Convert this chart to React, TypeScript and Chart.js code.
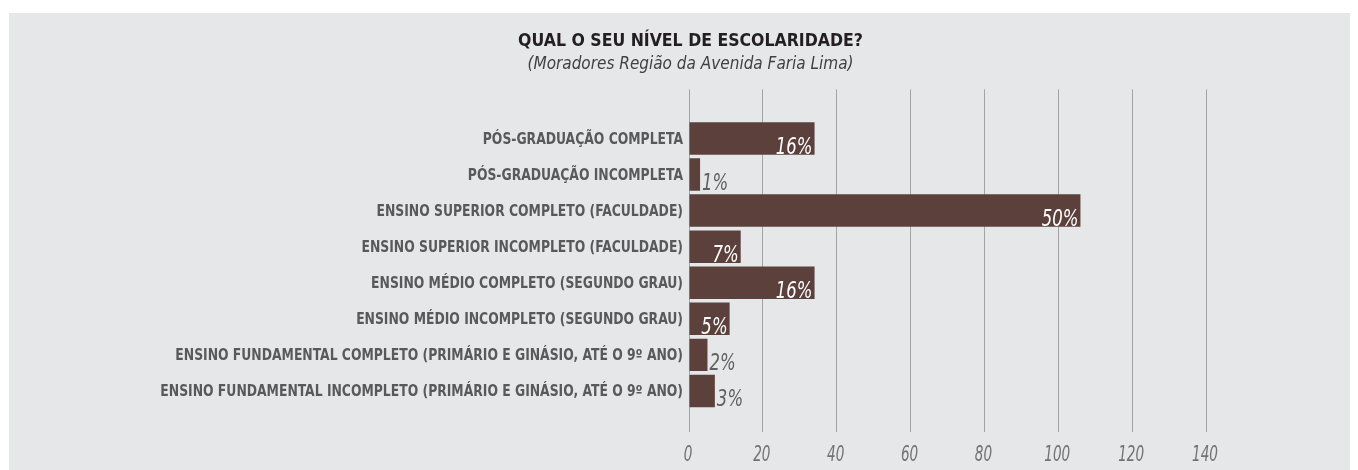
import React, { useEffect, useRef } from "react";
import { Chart, registerables } from "chart.js";

Chart.register(...registerables);

const categories = [
  "PÓS-GRADUAÇÃO COMPLETA",
  "PÓS-GRADUAÇÃO INCOMPLETA",
  "ENSINO SUPERIOR COMPLETO (FACULDADE)",
  "ENSINO SUPERIOR INCOMPLETO (FACULDADE)",
  "ENSINO MÉDIO COMPLETO (SEGUNDO GRAU)",
  "ENSINO MÉDIO INCOMPLETO (SEGUNDO GRAU)",
  "ENSINO FUNDAMENTAL COMPLETO (PRIMÁRIO E GINÁSIO, ATÉ O 9º ANO)",
  "ENSINO FUNDAMENTAL INCOMPLETO (PRIMÁRIO E GINÁSIO, ATÉ O 9º ANO)",
];
const counts = [34, 3, 106, 14, 34, 11, 5, 7];
const percentLabels = ["16%", "1%", "50%", "7%", "16%", "5%", "2%", "3%"];
const xTicks = [0, 20, 40, 60, 80, 100, 120, 140];

const TITLE = "QUAL O SEU NÍVEL DE ESCOLARIDADE?";
const SUBTITLE = "(Moradores Região da Avenida Faria Lima)";

const FAMILY = "'Liberation Sans Narrow', 'DejaVu Sans Condensed', 'Roboto', sans-serif";
const BG = "#e6e7e8";
const BAR = "#5b403c";
const GRID = "#a3a4a6";

const alignPx = (p: number) => Math.round(p - 0.5) + 0.5;

function drawCondensed(
  ctx: CanvasRenderingContext2D,
  text: string,
  x: number,
  y: number,
  align: CanvasTextAlign,
  sx: number
) {
  ctx.save();
  ctx.translate(x, y);
  ctx.scale(sx, 1);
  ctx.textAlign = align;
  ctx.fillText(text, 0, 0);
  ctx.restore();
}

const gridTopPlugin = {
  id: "gridTop",
  beforeDatasetsDraw(chart: any) {
    const { ctx, chartArea } = chart;
    const xs = chart.scales.x;
    ctx.save();
    ctx.strokeStyle = GRID;
    ctx.lineWidth = 1;
    xTicks.forEach((v) => {
      const px = alignPx(xs.getPixelForValue(v));
      ctx.beginPath();
      ctx.moveTo(px, chartArea.top - 31);
      ctx.lineTo(px, chartArea.top + 1);
      ctx.stroke();
    });
    ctx.restore();
  },
};

const axisLabelPlugin = {
  id: "axisLabels",
  afterDraw(chart: any) {
    const { ctx, chartArea } = chart;
    const ys = chart.scales.y;
    const xs = chart.scales.x;
    ctx.save();
    // category labels
    ctx.fillStyle = "#58595b";
    ctx.font = `bold 16px ${FAMILY}`;
    ctx.textBaseline = "middle";
    categories.forEach((c, i) => {
      const py = ys.getPixelForTick(i);
      drawCondensed(ctx, c, chartArea.left - 6, py + 1, "right", 0.86);
    });
    // x tick labels
    ctx.fillStyle = "#717274";
    ctx.font = `italic 21px ${FAMILY}`;
    ctx.textBaseline = "middle";
    xTicks.forEach((v) => {
      const px = xs.getPixelForValue(v);
      drawCondensed(ctx, String(v), px - 1, chartArea.bottom + 47, "center", 0.72);
    });
    ctx.restore();
  },
};

const valueLabelPlugin = {
  id: "valueLabels",
  afterDatasetsDraw(chart: any) {
    const { ctx } = chart;
    const meta = chart.getDatasetMeta(0);
    const sx = 0.8;
    ctx.save();
    ctx.font = `italic 23px ${FAMILY}`;
    ctx.textBaseline = "alphabetic";
    meta.data.forEach((bar: any, i: number) => {
      const { x, y, base, height } = bar.getProps(["x", "y", "base", "height"], true);
      const bottom = y + height / 2;
      const w = x - base;
      const text = percentLabels[i];
      const tw = ctx.measureText(text).width * sx;
      if (tw + 6 <= w) {
        ctx.fillStyle = "#ffffff";
        drawCondensed(ctx, text, x - 2, bottom - 1, "right", sx);
      } else {
        ctx.fillStyle = "#606163";
        drawCondensed(ctx, text, x + 2, bottom - 1, "left", sx);
      }
    });
    ctx.restore();
  },
};

export default function App() {
  const ref = useRef<HTMLCanvasElement | null>(null);

  useEffect(() => {
    if (!ref.current) return;
    const chart = new Chart(ref.current, {
      type: "bar",
      data: {
        labels: categories,
        datasets: [
          {
            data: counts,
            backgroundColor: BAR,
            borderWidth: 0,
            categoryPercentage: 0.9,
            barPercentage: 1,
          },
        ],
      },
      options: {
        indexAxis: "y",
        animation: false,
        responsive: true,
        maintainAspectRatio: false,
        layout: { padding: { left: 14, right: 0, top: 0, bottom: 0 } },
        plugins: {
          legend: { display: false },
          tooltip: { enabled: false },
          title: {
            display: true,
            text: TITLE,
            color: "#231f20",
            font: { family: FAMILY, size: 17.5, weight: "bold" },
            padding: { top: 18, bottom: 1 },
          },
          subtitle: {
            display: true,
            text: SUBTITLE,
            color: "#414042",
            font: { family: FAMILY, size: 17, style: "italic", weight: "normal" },
            padding: { top: 1, bottom: 46 },
          },
        },
        scales: {
          x: {
            type: "linear",
            min: 0,
            max: 140,
            afterBuildTicks: (s: any) => {
              s.ticks = xTicks.map((v) => ({ value: v }));
            },
            afterFit: (s: any) => {
              s.height = 61;
            },
            grid: {
              color: GRID,
              lineWidth: 1,
              drawTicks: true,
              tickLength: 23,
              tickColor: GRID,
            },
            border: { display: false },
            ticks: { display: false },
          },
          y: {
            type: "category",
            afterFit: (s: any) => {
              s.width = 666;
            },
            grid: { display: false, drawTicks: false },
            border: { display: false },
            ticks: { display: false },
          },
          yR: {
            type: "linear",
            axis: "y",
            position: "right",
            display: true,
            grid: { display: false, drawTicks: false },
            border: { display: false },
            ticks: { display: false },
            afterFit: (s: any) => {
              s.width = 152;
            },
          },
        },
      } as any,
      plugins: [gridTopPlugin, valueLabelPlugin, axisLabelPlugin],
    });
    return () => chart.destroy();
  }, []);

  return (
    <div
      style={{
        marginLeft: 1,
        marginTop: 5,
        width: 1349,
        height: 457,
        background: BG,
        position: "relative",
      }}
    >
      <canvas ref={ref} />
    </div>
  );
}
